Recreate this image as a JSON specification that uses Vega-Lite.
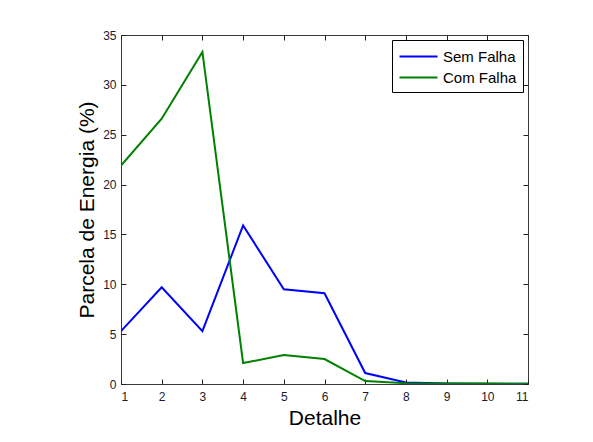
{
  "$schema": "https://vega.github.io/schema/vega-lite/v6.json",
  "width": 407,
  "height": 349,
  "autosize": "none",
  "padding": {"left": 121, "top": 35, "right": 65, "bottom": 58},
  "background": "white",
  "config": {
    "font": "Liberation Sans",
    "view": {"stroke": "#3a3a3a", "strokeWidth": 1},
    "axis": {
      "domain": false,
      "grid": false,
      "ticks": true,
      "tickSize": -5,
      "tickColor": "#222222",
      "labelFont": "Liberation Sans",
      "labelFontSize": 12,
      "labelColor": "#1a1a2e",
      "titleFont": "Liberation Sans",
      "titleFontSize": 21,
      "titleFontWeight": "normal",
      "titleColor": "#000000"
    }
  },
  "data": {
    "values": [
      {"detalhe": 1, "serie": "Sem Falha", "valor": 5.3},
      {"detalhe": 2, "serie": "Sem Falha", "valor": 9.7},
      {"detalhe": 3, "serie": "Sem Falha", "valor": 5.3},
      {"detalhe": 4, "serie": "Sem Falha", "valor": 15.9},
      {"detalhe": 5, "serie": "Sem Falha", "valor": 9.5},
      {"detalhe": 6, "serie": "Sem Falha", "valor": 9.1},
      {"detalhe": 7, "serie": "Sem Falha", "valor": 1.1},
      {"detalhe": 8, "serie": "Sem Falha", "valor": 0.15},
      {"detalhe": 9, "serie": "Sem Falha", "valor": 0.05},
      {"detalhe": 10, "serie": "Sem Falha", "valor": 0.03},
      {"detalhe": 11, "serie": "Sem Falha", "valor": 0.02},
      {"detalhe": 1, "serie": "Com Falha", "valor": 21.9},
      {"detalhe": 2, "serie": "Com Falha", "valor": 26.6},
      {"detalhe": 3, "serie": "Com Falha", "valor": 33.3},
      {"detalhe": 4, "serie": "Com Falha", "valor": 2.1},
      {"detalhe": 5, "serie": "Com Falha", "valor": 2.9},
      {"detalhe": 6, "serie": "Com Falha", "valor": 2.5},
      {"detalhe": 7, "serie": "Com Falha", "valor": 0.3},
      {"detalhe": 8, "serie": "Com Falha", "valor": 0.08},
      {"detalhe": 9, "serie": "Com Falha", "valor": 0.05},
      {"detalhe": 10, "serie": "Com Falha", "valor": 0.04},
      {"detalhe": 11, "serie": "Com Falha", "valor": 0.03}
    ]
  },
  "resolve": {"axis": {"x": "independent", "y": "independent"}},
  "layer": [
    {
      "mark": {"type": "line", "strokeWidth": 2, "clip": true},
      "encoding": {
        "x": {
          "field": "detalhe",
          "type": "quantitative",
          "scale": {"domain": [1, 11], "nice": false, "zero": false},
          "axis": {"values": [1, 2, 3, 4, 5, 6, 7, 8, 9, 10, 11], "title": "Detalhe", "labelPadding": 12, "titlePadding": 5, "format": "d"}
        },
        "y": {
          "field": "valor",
          "type": "quantitative",
          "scale": {"domain": [0, 35], "nice": false},
          "axis": {"values": [0, 5, 10, 15, 20, 25, 30, 35], "title": "Parcela de Energia (%)", "labelPadding": 10, "titlePadding": 5, "format": "d"}
        },
        "color": {
          "field": "serie",
          "type": "nominal",
          "sort": ["Sem Falha", "Com Falha"],
          "scale": {"domain": ["Sem Falha", "Com Falha"], "range": ["#0000ff", "#008000"]},
          "legend": {
            "title": null,
            "orient": "top-right",
            "offset": 5,
            "strokeColor": "#000000",
            "fillColor": "#ffffff",
            "padding": 6,
            "symbolType": "M-2,0H2",
            "symbolSize": 361,
            "symbolStrokeWidth": 2,
            "symbolOffset": 10,
            "labelOffset": 14,
            "labelFontSize": 15,
            "labelColor": "#000000",
            "rowPadding": 2
          }
        }
      }
    },
    {
      "mark": {"type": "line", "opacity": 0},
      "encoding": {
        "x": {
          "field": "detalhe",
          "type": "quantitative",
          "scale": {"domain": [1, 11], "nice": false, "zero": false},
          "axis": {"orient": "top", "values": [1, 2, 3, 4, 5, 6, 7, 8, 9, 10, 11], "labels": false, "title": null}
        },
        "y": {
          "field": "valor",
          "type": "quantitative",
          "scale": {"domain": [0, 35], "nice": false},
          "axis": {"orient": "right", "values": [0, 5, 10, 15, 20, 25, 30, 35], "labels": false, "title": null}
        },
        "detail": {"field": "serie", "type": "nominal"}
      }
    }
  ]
}
